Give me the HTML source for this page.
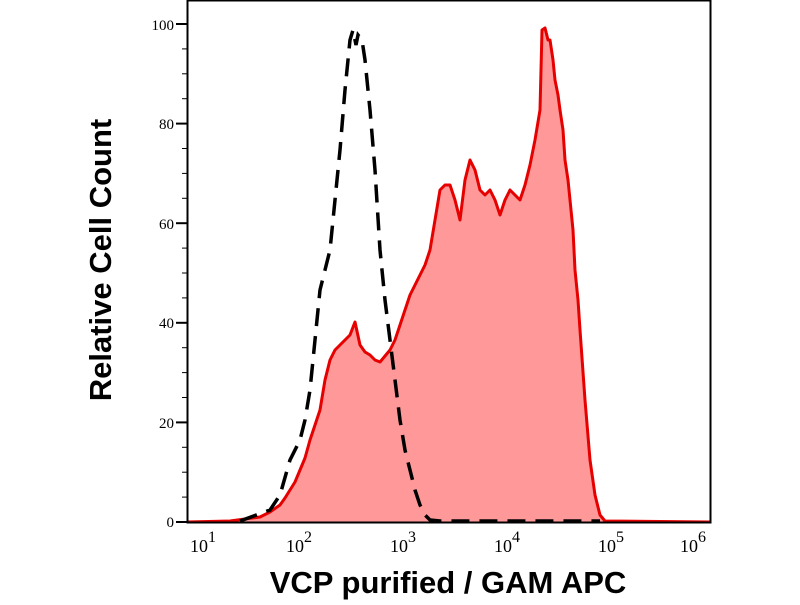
<!DOCTYPE html>
<html><head><style>body{margin:0;background:#fff}</style></head><body>
<svg width="800" height="600" viewBox="0 0 800 600" xmlns="http://www.w3.org/2000/svg">
<rect width="800" height="600" fill="#fff"/>
<g id="red">
<polygon fill="#ff9999" stroke="none" points="187,522 230,521 245,519 260,517 270,512 280,505 285,498 290,490 295,482 300,470 305,458 310,440 315,425 320,410 325,380 330,360 335,350 340,345 345,340 350,335 355,322 360,345 365,352 370,355 375,360 380,362 385,356 390,350 395,340 400,325 405,310 410,295 415,285 420,275 425,265 430,250 435,220 440,190 445,185 450,185 455,200 460,220 465,180 470,160 475,170 480,190 485,195 490,190 495,200 500,215 505,200 510,190 515,195 520,200 525,185 530,165 535,140 540,110 542,30 545,28 548,40 550,40 553,60 555,80 558,95 560,110 563,130 565,160 568,180 570,200 573,230 575,270 578,300 580,330 585,400 590,460 595,495 600,515 605,521 710,522"/>
<polyline fill="none" stroke="#e60000" stroke-width="3" stroke-linejoin="round" points="187,522 230,521 245,519 260,517 270,512 280,505 285,498 290,490 295,482 300,470 305,458 310,440 315,425 320,410 325,380 330,360 335,350 340,345 345,340 350,335 355,322 360,345 365,352 370,355 375,360 380,362 385,356 390,350 395,340 400,325 405,310 410,295 415,285 420,275 425,265 430,250 435,220 440,190 445,185 450,185 455,200 460,220 465,180 470,160 475,170 480,190 485,195 490,190 495,200 500,215 505,200 510,190 515,195 520,200 525,185 530,165 535,140 540,110 542,30 545,28 548,40 550,40 553,60 555,80 558,95 560,110 563,130 565,160 568,180 570,200 573,230 575,270 578,300 580,330 585,400 590,460 595,495 600,515 605,521 710,522"/>
</g>
<polyline fill="none" stroke="#000" stroke-width="3.5" stroke-dasharray="18,10" points="240,521 270,510 280,495 290,460 300,440 305,420 310,390 315,340 320,290 325,270 330,250 335,200 340,150 345,90 350,40 353,30 356,45 358,35 362,40 365,60 370,110 375,170 380,250 385,300 390,340 395,380 400,420 405,450 410,470 415,490 420,505 425,515 430,520 440,521 600,521"/>
<g stroke="#000" fill="none">
<rect x="187.5" y="0.5" width="523" height="522" stroke-width="2"/>
</g>
<g stroke="#000" stroke-width="2">
<line x1="176" y1="522" x2="187" y2="522"/><line x1="176" y1="422.4" x2="187" y2="422.4"/><line x1="176" y1="322.8" x2="187" y2="322.8"/><line x1="176" y1="223.2" x2="187" y2="223.2"/><line x1="176" y1="123.6" x2="187" y2="123.6"/><line x1="176" y1="24" x2="187" y2="24"/>
</g>
<g stroke="#000" stroke-width="1">
<line x1="182" y1="497.1" x2="187" y2="497.1"/><line x1="182" y1="472.2" x2="187" y2="472.2"/><line x1="182" y1="447.3" x2="187" y2="447.3"/>
<line x1="182" y1="397.5" x2="187" y2="397.5"/><line x1="182" y1="372.6" x2="187" y2="372.6"/><line x1="182" y1="347.7" x2="187" y2="347.7"/>
<line x1="182" y1="297.9" x2="187" y2="297.9"/><line x1="182" y1="273" x2="187" y2="273"/><line x1="182" y1="248.1" x2="187" y2="248.1"/>
<line x1="182" y1="198.3" x2="187" y2="198.3"/><line x1="182" y1="173.4" x2="187" y2="173.4"/><line x1="182" y1="148.5" x2="187" y2="148.5"/>
<line x1="182" y1="98.7" x2="187" y2="98.7"/><line x1="182" y1="73.8" x2="187" y2="73.8"/><line x1="182" y1="48.9" x2="187" y2="48.9"/>
</g>
<g font-family="Liberation Serif, serif" font-size="15" text-anchor="end" fill="#000">
<text x="174" y="527">0</text><text x="174" y="428">20</text><text x="174" y="328">40</text><text x="174" y="229">60</text><text x="174" y="129">80</text><text x="174" y="30">100</text>
</g>
<g id="xt" stroke="#000"></g>
<g font-family="Liberation Serif, serif" font-size="18" fill="#000">
<text x="190" y="552">10<tspan dy="-10" font-size="16">1</tspan></text>
<text x="286" y="552">10<tspan dy="-10" font-size="16">2</tspan></text>
<text x="390" y="552">10<tspan dy="-10" font-size="16">3</tspan></text>
<text x="494" y="552">10<tspan dy="-10" font-size="16">4</tspan></text>
<text x="598" y="552">10<tspan dy="-10" font-size="16">5</tspan></text>
<text x="680" y="552">10<tspan dy="-10" font-size="16">6</tspan></text>
</g>
<text x="111" y="260" transform="rotate(-90 111 260)" text-anchor="middle" font-family="Liberation Sans, sans-serif" font-weight="bold" font-size="31" fill="#000">Relative Cell Count</text>
<text x="448" y="593" text-anchor="middle" font-family="Liberation Sans, sans-serif" font-weight="bold" font-size="31" fill="#000">VCP purified / GAM APC</text>
<script>
var g=document.getElementById('xt'),s='';
for(var d=1;d<=6;d++){var x0=187.3+(d-1)*104.3;
 s+='<line x1="'+x0+'" y1="523" x2="'+x0+'" y2="533" stroke-width="2"/>';
 if(d<6)for(var m=2;m<10;m++){var x=x0+Math.log10(m)*104.3;s+='<line x1="'+x+'" y1="523" x2="'+x+'" y2="528" stroke-width="1"/>';}}
g.innerHTML=s;
</script>
</svg>
</body></html>
